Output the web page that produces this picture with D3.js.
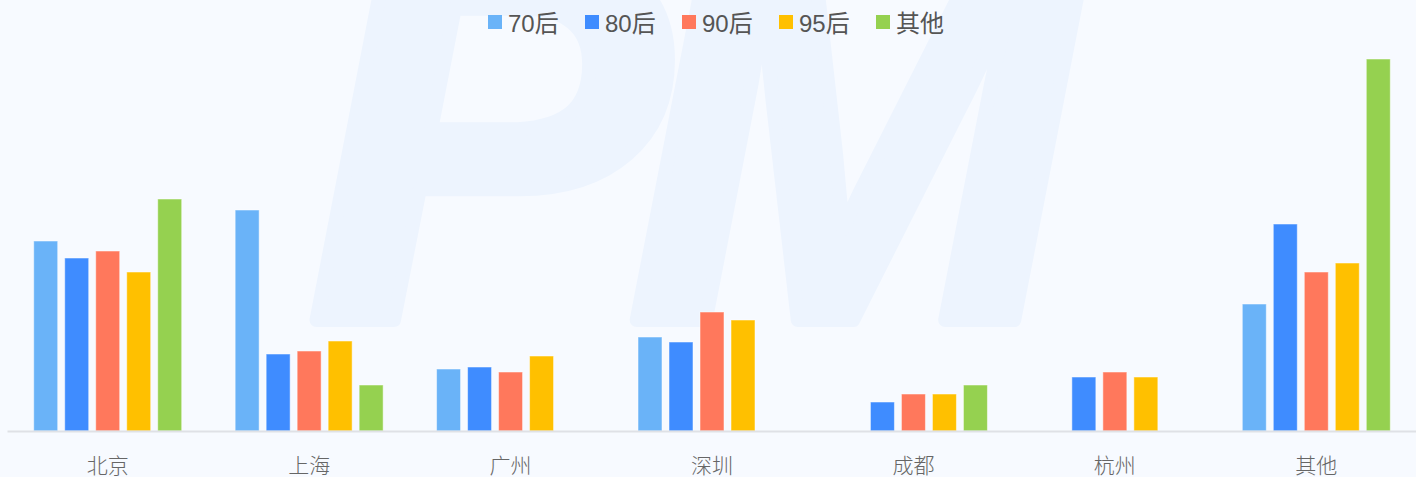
<!DOCTYPE html>
<html>
<head>
  <meta charset="utf-8">
  <title>城市年龄分布</title>
  <script src="https://cdn.jsdelivr.net/npm/d3@7/dist/d3.min.js"></script>
  <style>
    body { margin: 0; background: #f7faff; }
    svg { display: block; font-family: "Liberation Sans", "Noto Sans CJK SC", sans-serif; }
  </style>
</head>
<body>
  <svg width="1416" height="477" id="mainsvg"></svg>
  <script>
    const cities = ['北京', '上海', '广州', '深圳', '成都', '杭州', '其他'];
    const series = ['70后', '80后', '90后', '95后', '其他'];
    const colors = ['#6ab3f8', '#3f8cff', '#ff785c', '#ffc000', '#95d150'];

    // values per series, one per city (null = no bar)
    const v70 = [19.0, 22.1, 6.2, 9.4, null, null, 12.7];
    const v80 = [17.3, 7.7, 6.4, 8.9, 2.9, 5.4, 20.7];
    const v90 = [18.0, 8.0, 5.9, 11.9, 3.7, 5.9, 15.9];
    const v95 = [15.9, 9.0, 7.5, 11.1, 3.7, 5.4, 16.8];
    const vOther = [23.2, 4.6, null, null, 4.6, null, 37.2];
    const values = [v70, v80, v90, v95, vOther];

    const svg = d3.select('svg');
    const width = +svg.attr('width');
    const height = +svg.attr('height');
    const margin = {top: 31, right: -1, bottom: 46, left: 7};
    const baseY = height - margin.bottom;

    // watermark
    svg.append('text')
      .attr('x', 307)
      .attr('y', 320)
      .attr('font-family', 'Liberation Sans, Arial, sans-serif')
      .attr('font-weight', 'bold')
      .attr('font-style', 'italic')
      .attr('font-size', 540)
      .style('letter-spacing', '-40px')
      .attr('fill', '#edf4fe')
      .attr('stroke', '#edf4fe')
      .attr('stroke-width', 14)
      .attr('stroke-linejoin', 'round')
      .text('PM');

    const x = d3.scaleBand().domain(cities).range([margin.left, width - margin.right]);
    const inner = d3.scaleBand().domain(series).range([-74, 74]).paddingInner(7 / 31);
    const y = d3.scaleLinear().domain([0, 40]).range([baseY, margin.top]);
    const color = d3.scaleOrdinal().domain(series).range(colors);

    const rows = [];
    series.forEach((s, i) => {
      cities.forEach((c, j) => {
        if (values[i][j] != null) rows.push({city: c, series: s, value: values[i][j]});
      });
    });

    svg.append('g')
      .selectAll('rect').data(rows).join('rect')
      .attr('x', d => x(d.city) + x.bandwidth() / 2 + inner(d.series))
      .attr('y', d => y(d.value))
      .attr('width', inner.bandwidth())
      .attr('height', d => baseY - y(d.value))
      .attr('fill', d => color(d.series))
      .attr('stroke', 'rgba(255,255,255,0.5)')
      .attr('stroke-width', 1);

    // x axis
    const xAxis = svg.append('g')
      .attr('transform', `translate(0, ${baseY})`)
      .call(d3.axisBottom(x).tickSize(0));
    xAxis.select('.domain').attr('stroke', '#dfe1e6').attr('stroke-width', 2);
    xAxis.selectAll('text')
      .attr('y', 42)
      .attr('dy', 0)
      .attr('font-size', 21)
      .attr('fill', '#666')
      .attr('font-family', '"Noto Sans CJK SC", sans-serif')
      .attr('font-weight', 300);

    // legend
    const legend = svg.append('g')
      .selectAll('g').data(series).join('g')
      .attr('transform', (d, i) => `translate(${488 + i * 97}, 15)`);
    legend.append('rect')
      .attr('width', 14).attr('height', 14)
      .attr('fill', d => color(d));
    legend.append('text')
      .attr('x', 20)
      .attr('y', 17)
      .attr('font-size', 24)
      .attr('fill', '#555')
      .text(d => d);
  </script>
</body>
</html>
